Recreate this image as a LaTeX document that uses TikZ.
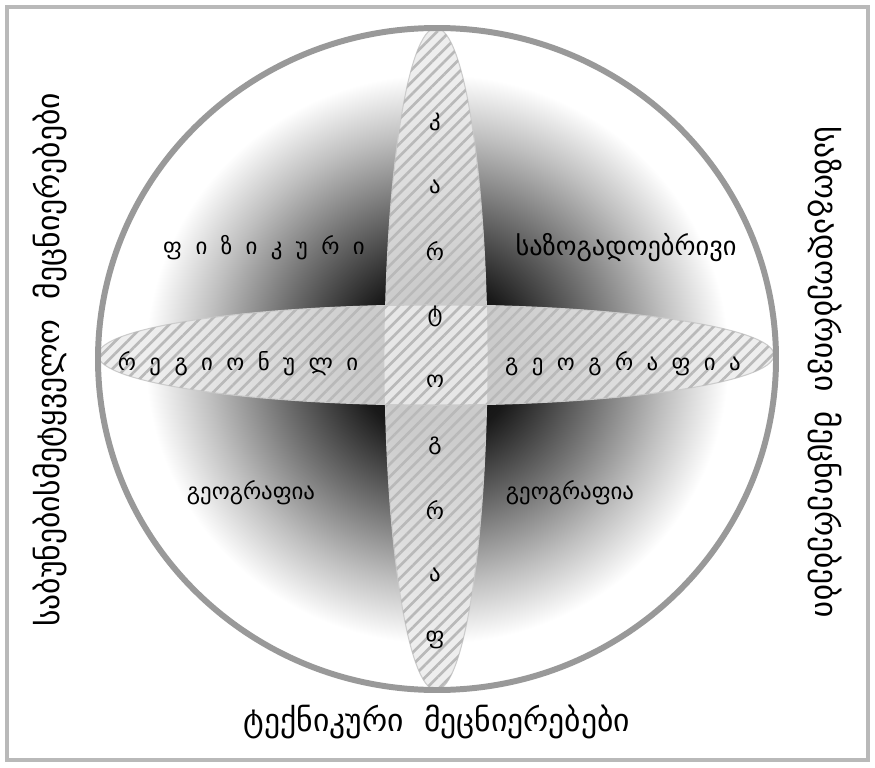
\documentclass[tikz,border=0pt]{standalone}
\usepackage{fontspec}
\setmainfont{DejaVu Sans}
\newfontfamily\widefont[WordSpace=1.85]{DejaVu Sans}
\usetikzlibrary{patterns.meta}

\pgfdeclareradialshading{disc}{\pgfpoint{0bp}{0bp}}{color(0bp)=(black); color(6bp)=(black!90); color(12bp)=(black!55); color(17bp)=(black!25); color(21.5bp)=(white); color(50bp)=(white)}

\begin{document}
\begin{tikzpicture}[
    x=0.02cm, y=-0.02cm,
    frameline/.style={draw=gray!55, line width=2.8pt},
    rim/.style={draw=gray!80, line width=3.4pt},
    band/.style={draw=gray!40, line width=0.6pt, fill=gray!15, fill opacity=0.85},
    bandtex/.style={pattern={Lines[angle=45, distance=5pt, line width=1.5pt]}, pattern color=gray!55},
    side/.style={font=\fontsize{18}{21}\selectfont, inner sep=0pt},
    lbl/.style={font=\fontsize{13}{15}\selectfont, inner sep=0pt},
    spaced/.style={font=\widefont\fontsize{13}{15}\selectfont, inner sep=0pt},
    letter/.style={font=\fontsize{13}{15}\selectfont, inner sep=0pt}
]
\useasboundingbox (0,0) rectangle (875,767);
\draw[frameline] (7,7) rectangle (868,760);

% shaded disc
\shade[shading=disc] (437,359) ellipse [x radius=339, y radius=331];

% the two crossing bands
\path[band] (436,359) ellipse [x radius=51, y radius=331];
\path[bandtex] (436,359) ellipse [x radius=51, y radius=331];
\path[band] (436,355) ellipse [x radius=338, y radius=50];
\path[bandtex] (436,355) ellipse [x radius=338, y radius=50];

\draw[rim] (437,359) ellipse [x radius=339, y radius=331];

% quadrant labels
\node[spaced] (fiz) at (264,248) {ფ ი ზ ი კ უ რ ი};
\node[lbl, font=\fontsize{15}{17}\selectfont] (saz) at (626,248) {საზოგადოებრივი};
\node[spaced] (reg) at (238,364) {რ ე გ ი ო ნ უ ლ ი};
\node[spaced] (geo) at (623,364) {გ ე ო გ რ ა ფ ი ა};
\node[lbl] (geol) at (251,493) {გეოგრაფია};
\node[lbl] (geor) at (570,493) {გეოგრაფია};

% letters down the vertical band
\foreach \ch [count=\i] in {კ,ა,რ,ტ,ო,გ,რ,ა,ფ}
    \node[letter] (k\i) at (435,{122+64.7*(\i-1)}) {\ch};

% outer captions
\node[side, rotate=90] (nat) at (50,360) {საბუნებისმეტყველო\ \ მეცნიერებები};
\node[side, rotate=-90] (soc) at (825,372) {საზოგადოებრივი\ \ მეცნიერებები};
\node[side] (tech) at (437,722) {ტექნიკური\ \ მეცნიერებები};
\end{tikzpicture}
\end{document}
